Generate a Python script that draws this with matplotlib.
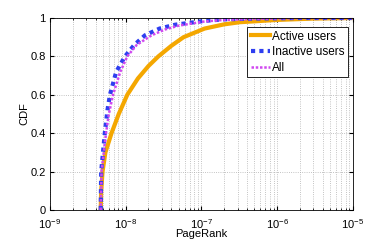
import numpy as np
import matplotlib
matplotlib.use("Agg")
import matplotlib.pyplot as plt

plt.rcParams['font.family'] = ['Liberation Sans', 'DejaVu Sans']
plt.rcParams['mathtext.fontset'] = 'custom'
plt.rcParams['mathtext.rm'] = 'Liberation Sans'

# PageRank (x) and CDF (y) values, one pair of lists per group
pr_active = [4.68e-9, 4.75e-9, 4.95e-9, 5.4e-9, 6.5e-9, 8.1e-9, 1.05e-8, 1.45e-8,
             2.0e-8, 2.7e-8, 4.0e-8, 5.8e-8, 1.1e-7, 2.0e-7, 3.2e-7, 1.0e-6, 3.0e-6, 1.0e-5]
cdf_active = [0.0, 0.10, 0.20, 0.30, 0.40, 0.50, 0.60, 0.685,
              0.75, 0.80, 0.855, 0.90, 0.945, 0.967, 0.978, 0.99, 0.997, 1.0]

pr_inactive = [4.68e-9, 4.75e-9, 5.3e-9, 5.75e-9, 6.2e-9, 7.5e-9, 9.8e-9, 1.3e-8,
               1.8e-8, 2.8e-8, 4.5e-8, 1.1e-7, 2.0e-7, 5.0e-7, 2.0e-6, 1.0e-5]
cdf_inactive = [0.0, 0.20, 0.40, 0.52, 0.60, 0.72, 0.80, 0.86,
                0.91, 0.945, 0.965, 0.985, 0.993, 0.997, 1.0, 1.0]

pr_all = [4.68e-9, 4.8e-9, 5.5e-9, 6.0e-9, 6.8e-9, 8.5e-9, 1.05e-8, 1.4e-8,
          2.2e-8, 3.3e-8, 5.0e-8, 1.1e-7, 2.0e-7, 5.0e-7, 2.0e-6, 1.0e-5]
cdf_all = [0.0, 0.20, 0.40, 0.50, 0.60, 0.72, 0.80, 0.86,
           0.91, 0.94, 0.96, 0.982, 0.99, 0.995, 1.0, 1.0]

fig = plt.figure(figsize=(3.9, 2.4), dpi=100)
ax = fig.add_axes([0.128, 0.125, 0.777, 0.8])

ax.plot(pr_active, cdf_active, color='#f4a700', lw=3, label='Active users')
ax.plot(pr_inactive, cdf_inactive, color='#2e3ef0', lw=3, ls=(0, (1, 1)), label='Inactive users')
ax.plot(pr_all, cdf_all, color='#d048f0', lw=1.8, ls=(0, (1, 0.7)), label='All')

ax.set_xscale('log')
ax.set_xlim(1e-9, 1e-5)
ax.set_ylim(0, 1)
ax.set_xticks([1e-9, 1e-8, 1e-7, 1e-6, 1e-5])
ax.set_yticks([0, 0.2, 0.4, 0.6, 0.8, 1])
ax.set_yticklabels(['0', '0.2', '0.4', '0.6', '0.8', '1'])
ax.grid(True, which='both', axis='x', ls=':', color='#b0b0b0', lw=0.6)
ax.grid(True, which='major', axis='y', ls=':', color='#b0b0b0', lw=0.6)
ax.tick_params(labelsize=8, direction='in', length=3, which='major', top=True, right=True, pad=3)
ax.tick_params(axis='x', which='major', pad=5)
ax.tick_params(direction='in', length=1.5, which='minor', top=True, right=True)
ax.set_xlabel('PageRank', fontsize=8, labelpad=-1)
ax.set_ylabel('CDF', fontsize=8, labelpad=1)
for s in ax.spines.values():
    s.set_linewidth(0.6)

leg = ax.legend(loc='upper right', bbox_to_anchor=(0.9835, 0.953), borderaxespad=0,
                fontsize=8.5, handlelength=1.6, handletextpad=0.2,
                borderpad=0.3, labelspacing=0.3, fancybox=False, framealpha=1,
                edgecolor='black')
leg.get_frame().set_linewidth(0.6)

fig.savefig('out.png', dpi=100)
